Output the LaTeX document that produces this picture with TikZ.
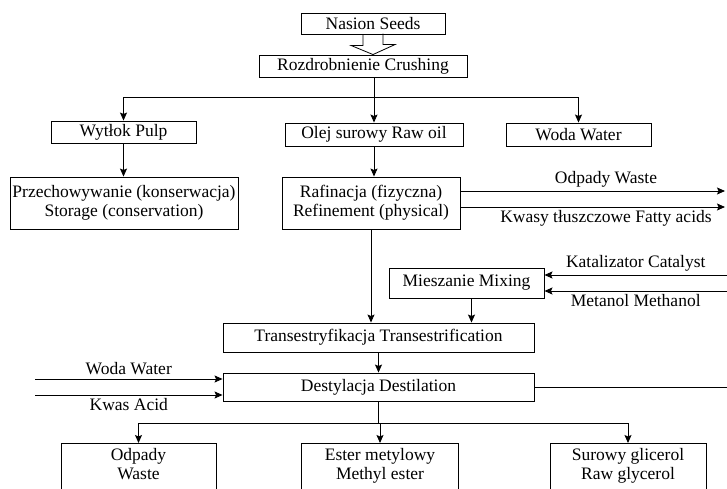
\documentclass[tikz,border=0pt]{standalone}
\usepackage{fontspec}
\setmainfont{Liberation Serif}
\usetikzlibrary{arrows.meta,calc}

\begin{document}
\begin{tikzpicture}[>={Stealth[length=8pt,width=7pt,inset=1.5pt]}, x=1pt, y=-1pt, line width=0.9pt,
  blok/.style={draw, inner sep=0pt, align=center, font=\fontsize{17.5}{19}\selectfont},
  etikett/.style={font=\fontsize{17.5}{19}\selectfont},
  unten/.style={blok, anchor=north, inner ysep=5pt, text depth=24pt}]
\useasboundingbox (0,0) rectangle (727,489);
\clip (0,0) rectangle (727,489);

% Knoten
\node[blok, minimum width=144pt, minimum height=21pt] (seeds)   at (373,23.5)  {Nasion Seeds};
\node[blok, minimum width=208pt, minimum height=22pt] (crush)   at (363,66)    {Rozdrobnienie Crushing};

\node[blok, minimum width=145pt, minimum height=22pt] (pulp)    at (123.5,132) {Wytłok Pulp};
\node[blok, minimum width=178pt, minimum height=23pt] (rawoil)  at (374,134.5) {Olej surowy Raw oil};
\node[blok, minimum width=145pt, minimum height=23pt] (water)   at (578.5,134.5) {Woda Water};

\node[blok, minimum width=228pt, minimum height=52pt] (storage) at (124,203)
  {Przechowywanie (konserwacja)\\Storage (conservation)};
\node[blok, minimum width=178pt, minimum height=52pt] (refine)  at (371,203)
  {Rafinacja (fizyczna)\\Refinement (physical)};

\node[blok, minimum width=155pt, minimum height=30pt] (mixing)  at (466.5,283) {Mieszanie Mixing};
\node[blok, minimum width=311pt, minimum height=29pt] (trans)   at (378.5,337.5) {Transestryfikacja Transestrification};
\node[blok, minimum width=311pt, minimum height=28pt] (destil)  at (378.5,387)  {Destylacja Destilation};

\node[unten, minimum width=155pt] (waste)    at (138.5,443) {Odpady\\Waste};
\node[unten, minimum width=157pt] (ester)    at (380,443)   {Ester metylowy\\Methyl ester};
\node[unten, minimum width=156pt] (glycerol) at (628,443)   {Surowy glicerol\\Raw glycerol};

% Hohlpfeil Nasion -> Rozdrobnienie
\draw[line width=0.8pt] (seeds.south) ++(-10,0) -- ++(0,11) -- ++(-12,0)
  -- (seeds.south |- crush.north) -- ++(22,-10) -- ++(-12,0) -- ++(0,-11);

% Aufteilung nach dem Zerkleinern
\coordinate (split) at (374,97);
\draw (crush.south -| rawoil.north) -- (split);
\draw[->] (split) -| (pulp.north);
\draw[->] (split) -- (rawoil.north);
\draw[->] (split) -| (water.north);

\draw[->] (pulp.south) -- (pulp.south |- storage.north);
\draw[->] (rawoil.south) -- (rawoil.south |- refine.north);

% Nebenprodukte der Rafination
\coordinate (wasteR) at (725,191);
\coordinate (acidsR) at (725,207);
\draw[->] (refine.east |- wasteR) -- (wasteR) node[etikett, pos=0.55, above] {Odpady Waste};
\draw[->] (refine.east |- acidsR) -- (acidsR) node[etikett, pos=0.55, below] {Kwasy tłuszczowe Fatty acids};

% Zugaben zum Mischen
\coordinate (catR)  at (727,275);
\coordinate (methR) at (727,291);
\draw[->] (catR)  -- (mixing.east |- catR)  node[etikett, midway, above] {Katalizator Catalyst};
\draw[->] (methR) -- (mixing.east |- methR) node[etikett, midway, below] {Metanol Methanol};

\draw[->] (refine.south) -- (refine.south |- trans.north);
\draw[->] ([xshift=5pt]mixing.south) -- ([xshift=5pt]mixing.south |- trans.north);
\draw[->] (trans) -- (destil);

% Zugaben zur Destillation
\coordinate (waterL) at (35,379);
\coordinate (acidL)  at (35,395);
\draw[->] (waterL) -- (destil.west |- waterL) node[etikett, midway, above] {Woda Water};
\draw[->] (acidL)  -- (destil.west |- acidL)  node[etikett, midway, below] {Kwas Acid};

\coordinate (destR) at (727,387);
\draw (destil.east) -- (destR);

% Produkte
\coordinate (distr) at ($(destil.south)+(0,22)$);
\draw (destil.south) -- (distr);
\draw[->] (distr) -| (waste.north);
\draw[->] (distr) -| (ester.north);
\draw[->] (distr) -| (glycerol.north);

\end{tikzpicture}
\end{document}
